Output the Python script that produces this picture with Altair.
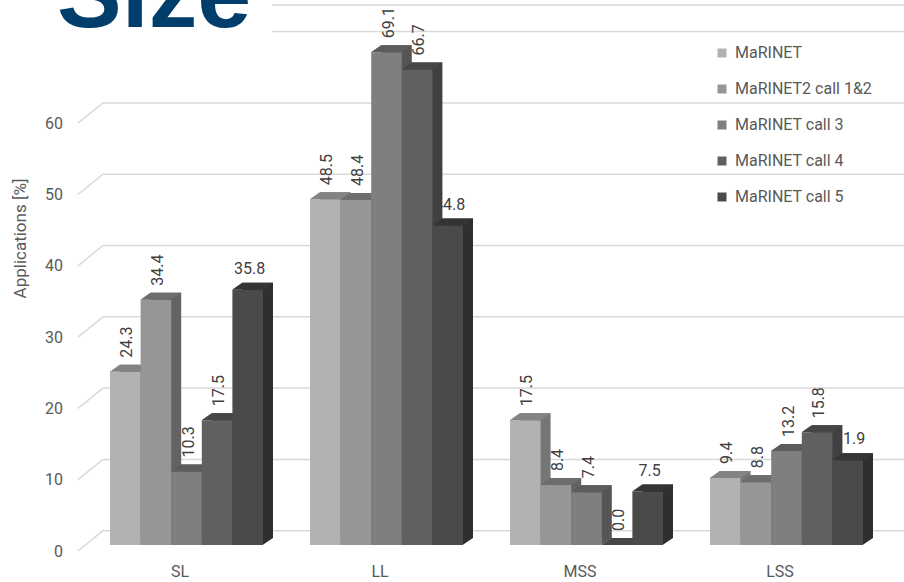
import altair as alt
import pandas as pd

# ---- data -------------------------------------------------------------
categories = ["SL", "LL", "MSS", "LSS"]
series_names = [
    "MaRINET",
    "MaRINET2 call 1&2",
    "MaRINET call 3",
    "MaRINET call 4",
    "MaRINET call 5",
]
marinet = [24.3, 48.5, 17.5, 9.4]
marinet2_call12 = [34.4, 48.4, 8.4, 8.8]
marinet_call3 = [10.3, 69.1, 7.4, 13.2]
marinet_call4 = [17.5, 66.7, 0.0, 15.8]
marinet_call5 = [35.8, 44.8, 7.5, 11.9]
y_tick_values = [0, 10, 20, 30, 40, 50, 60]
grid_levels = [0, 10, 20, 30, 40, 50, 60, 70]

# ---- styling ------------------------------------------------------------
front_colors = ["#b2b2b2", "#969696", "#7f7f7f", "#606060", "#4a4a4a"]
top_colors = ["#838383", "#6d6d6d", "#5c5c5c", "#464646", "#343434"]
side_colors = ["#767676", "#636363", "#555555", "#404040", "#2f2f2f"]
grid_color = "#d9d9d9"
text_grey = "#595959"
label_grey = "#404040"
FONT = "Roboto"

PLOT_W, PLOT_H = 800, 540
PAD_INNER = 0.235
GROUP_W = PLOT_W / len(categories) * (1 - PAD_INNER)   # width of one group of blocks
Y_MAX = PLOT_H / 7.13          # 7.13 px per percentage point
DX, DY = 10, 7                 # depth of the 3-D blocks in pixels
HALF = GROUP_W / len(series_names) / 2

all_values = [marinet, marinet2_call12, marinet_call3, marinet_call4, marinet_call5]
rows = []
for s, vals in zip(series_names, all_values):
    for c, v in zip(categories, vals):
        rows.append({"category": c, "series": s, "value": v})
df = pd.DataFrame(rows)
grid_df = pd.DataFrame({"value": grid_levels})
one_row = pd.DataFrame({"k": [0]})

# ---- shared encodings -----------------------------------------------------
X = alt.X(
    "category:N",
    scale=alt.Scale(domain=categories, paddingInner=PAD_INNER, paddingOuter=PAD_INNER / 2),
    axis=alt.Axis(
        title=None, labelAngle=0, ticks=False, domain=False, grid=False,
        labelPadding=18, labelOffset=-6.5, labelFont=FONT, labelFontSize=16,
        labelColor=text_grey,
    ),
)


def x_offset(shift=0.0):
    """Series slot inside a category group, optionally nudged sideways."""
    return alt.XOffset(
        "series:N",
        scale=alt.Scale(type="band", domain=series_names, paddingInner=0,
                        paddingOuter=0, range=[shift, GROUP_W + shift]),
    )


XO = x_offset()
Y_AXIS = alt.Axis(
    title="Applications [%]", values=y_tick_values, grid=False, ticks=False,
    tickSize=0, domain=False, labelPadding=24, labelOffset=6, labelFont=FONT,
    labelFontSize=16, labelColor=text_grey, titleFont=FONT, titleFontSize=17,
    titleFontWeight="normal", titleColor=text_grey, titleX=-66.5, titleY=233,
    titleAngle=270, titleAlign="center", titleBaseline="middle",
)
Y_SCALE = alt.Scale(domain=[0, Y_MAX], nice=False, zero=True)
Y = alt.Y("value:Q", scale=Y_SCALE, axis=Y_AXIS)
Y2 = alt.Y2("value:Q")

LEGEND = alt.Legend(
    title=None, orient="none", legendX=627.5, legendY=40, symbolType="square",
    symbolSize=81, symbolStrokeWidth=0, labelFont=FONT, labelFontSize=16,
    labelColor=text_grey, labelOffset=5, rowPadding=20, labelLimit=300,
)

# ---- back wall gridlines ---------------------------------------------------
grid_back = alt.Chart(grid_df).mark_rule(
    color=grid_color, strokeWidth=1.5, yOffset=-14.3
).encode(x=alt.value(16.5), x2=alt.value(840), y=Y)

grid_diag = alt.Chart(grid_df).mark_rule(
    color=grid_color, strokeWidth=1.5, yOffset=6, y2Offset=-14.3
).encode(x=alt.value(-8.5), x2=alt.value(16.5), y=Y, y2=Y2)

top_edge = alt.Chart(one_row).mark_rule(color=grid_color, strokeWidth=1.5).encode(
    x=alt.value(185.5), x2=alt.value(840), y=alt.value(0)
)

# heading block
heading_bg = alt.Chart(one_row).mark_rect(color="white").encode(
    x=alt.value(-90), x2=alt.value(185.5), y=alt.value(-10), y2=alt.value(55)
)
heading = alt.Chart(one_row).mark_text(
    text="Size", font="Liberation Sans", fontSize=97, fontWeight="bold",
    color="#023e6b", align="left", baseline="alphabetic",
).encode(x=alt.value(-29.5), y=alt.value(22))

# ---- value labels (drawn beneath the blocks) ------------------------------
labels_vertical = alt.Chart(df).transform_filter(
    alt.datum.series != series_names[-1]
).mark_text(
    angle=270, align="left", baseline="middle", yOffset=-14,
    font=FONT, fontSize=16, color=label_grey,
).encode(x=X, xOffset=x_offset(2), y=Y, text=alt.Text("value:Q", format=".1f"))

labels_horizontal = alt.Chart(df).transform_filter(
    alt.datum.series == series_names[-1]
).mark_text(
    align="center", baseline="middle", yOffset=-21,
    font=FONT, fontSize=16, color=label_grey,
).encode(x=X, xOffset=x_offset(2), y=Y, text=alt.Text("value:Q", format=".1f"))

# ---- 3-D blocks, painted series by series from left to right --------------
top_path = f"M{-HALF - 0.3},0L{HALF + 0.3},0L{HALF + DX + 0.3},{-DY}L{-HALF + DX - 0.3},{-DY}Z"
foot_path = f"M{HALF - 0.5},{-DY}L{HALF + DX},{-DY}L{HALF - 0.5},0Z"

block_layers = []
for i, s in enumerate(series_names):
    base = alt.Chart(df).transform_filter(alt.datum.series == s)
    # the block's right-hand face: the front rectangle pushed back in depth
    side = base.mark_bar(
        color=side_colors[i], yOffset=-DY, y2Offset=-DY
    ).encode(x=X, xOffset=x_offset(DX), y=Y, y2=alt.datum(0))
    foot = base.transform_calculate(floor="0").mark_point(
        shape=foot_path, size=4, filled=True, opacity=1, strokeOpacity=0,
        color=side_colors[i],
    ).encode(x=X, xOffset=XO, y=alt.Y("floor:Q", scale=Y_SCALE, axis=Y_AXIS))
    front = base.mark_bar().encode(
        x=X, xOffset=XO, y=Y, y2=alt.datum(0),
        color=alt.Color(
            "series:N",
            scale=alt.Scale(domain=series_names, range=front_colors),
            legend=LEGEND,
        ),
    )
    top = base.mark_point(
        shape=top_path, size=4, filled=True, opacity=1, strokeOpacity=0,
        color=top_colors[i],
    ).encode(x=X, xOffset=XO, y=Y)
    block_layers += [side, foot, front, top]

chart = alt.layer(
    grid_back, grid_diag, top_edge, heading_bg, heading,
    labels_vertical, labels_horizontal, *block_layers,
).resolve_scale(
    xOffset="independent"
).properties(
    width=PLOT_W,
    height=PLOT_H,
    padding={"left": 86.5, "top": 5, "right": 17.5, "bottom": 37},
    autosize=alt.AutoSizeParams(type="none"),
).configure_view(stroke=None)

chart.save("out.html", embed_options={"renderer": "svg", "actions": False})
